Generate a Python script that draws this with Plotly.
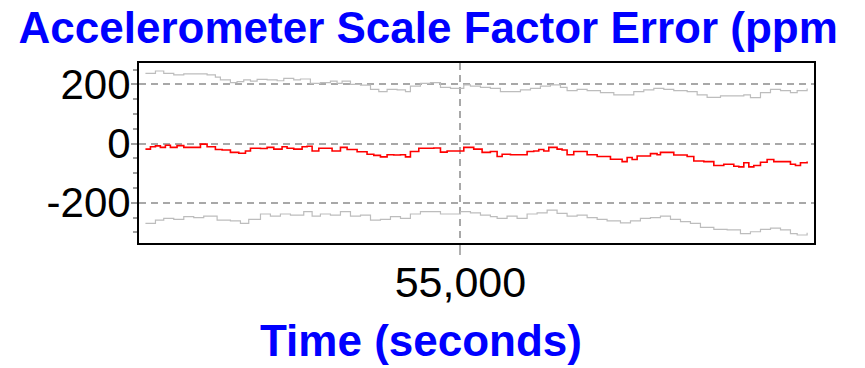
import plotly.graph_objects as go

# ---- data ----
red_t = [50786, 50853, 50920, 50986, 51053, 51120, 51209, 51299, 51432, 51522, 51611, 51722,
         51812, 51923, 52035, 52124, 52191, 52325, 52414, 52503, 52614, 52681, 52770, 52882,
         52949, 53016, 53105, 53216, 53283, 53395, 53484, 53618, 53751, 53841, 53930, 54019,
         54108, 54198, 54265, 54331, 54443, 54554, 54644, 54733, 54822, 54956, 55045,
         55089, 55178, 55290, 55401, 55491, 55558, 55669, 55825, 55892, 55981, 56048, 56115,
         56182, 56293, 56360, 56427, 56516, 56650, 56695, 56829, 57007, 57163, 57230, 57297,
         57364, 57542, 57631, 57676, 57854, 58033, 58122, 58256, 58390, 58523, 58657, 58724,
         58791, 58858, 58925, 59014, 59103, 59192, 59326, 59415, 59482, 59549, 59638]
red_v = [-19, -11, -8, -13, -6, -13, -7, -13, -13, -2, -11, -20, -22, -30, -33, -25, -16, -17,
         -13, -19, -11, -16, -19, -11, -9, -25, -16, -16, -25, -13, -20, -28, -36, -40, -45,
         -38, -39, -38, -45, -27, -16, -16, -15, -29, -25, -25, -13,
         -13, -19, -30, -27, -44, -36, -38, -38, -27, -25, -20, -25, -13, -19, -22, -38, -27,
         -27, -38, -44, -53, -61, -47, -54, -42, -34, -38, -30, -39, -44, -59, -61, -74, -70,
         -77, -79, -65, -79, -74, -63, -54, -61, -61, -70, -74, -65, -61]

upper_t = [50786, 50920, 51031, 51165, 51299, 51477, 51611, 51722, 51789, 51923, 52012, 52101,
           52191, 52280, 52414, 52548, 52637, 52770, 52860, 52993, 53127, 53261, 53350, 53417,
           53529, 53663, 53797, 53908, 54019, 54153, 54265, 54331, 54465, 54599, 54733, 54867,
           54978, 55045,
           55134, 55268, 55401, 55535, 55669, 55803, 55937, 56070, 56204, 56338, 56427, 56561,
           56695, 56873, 57052, 57185, 57319, 57453, 57587, 57721, 57854, 58033, 58167, 58300,
           58479, 58657, 58791, 58880, 59014, 59148, 59282, 59415, 59505, 59638]
upper_v = [237, 245, 237, 232, 235, 235, 232, 224, 215, 206, 209, 215, 211, 217, 215, 212, 220,
           215, 218, 203, 206, 211, 203, 211, 200, 197, 183, 175, 183, 181, 175, 194, 203, 206,
           190, 186, 186, 198,
           194, 190, 186, 175, 175, 181, 186, 194, 198, 190, 179, 183, 179, 172, 164, 164, 175,
           181, 186, 183, 179, 175, 164, 156, 161, 161, 164, 155, 172, 183, 179, 172, 179, 186]

lower_t = [50786, 50920, 51031, 51165, 51299, 51432, 51566, 51745, 51923, 52057, 52168, 52325,
           52458, 52592, 52726, 52904, 53016, 53127, 53261, 53395, 53529, 53663, 53797, 53930,
           54064, 54198, 54331, 54465, 54644, 54733, 54867, 55000,
           55134, 55268, 55401, 55491, 55624, 55758, 55892, 56026, 56160, 56293, 56427, 56561,
           56695, 56829, 56962, 57141, 57275, 57408, 57542, 57676, 57810, 57944, 58077, 58211,
           58390, 58568, 58746, 58880, 59014, 59148, 59282, 59415, 59505, 59638]
lower_v = [-270, -259, -253, -256, -247, -250, -245, -259, -261, -270, -256, -238, -245, -238,
           -242, -230, -245, -238, -242, -230, -245, -242, -259, -256, -247, -253, -238, -230,
           -230, -238, -238, -230,
           -234, -242, -247, -253, -245, -253, -238, -234, -225, -236, -245, -242, -250, -256,
           -261, -268, -261, -253, -250, -245, -256, -264, -270, -283, -290, -292, -304, -298,
           -290, -286, -292, -304, -309, -301]

y_tickvals = [-200, 0, 200]
y_ticktext = ["-200", "0", "200"]
x_tickvals = [55000]
x_ticktext = ["55,000"]

title_text = "Accelerometer Scale Factor Error (ppm"
xtitle_text = "Time (seconds)"

FONT = "Liberation Sans, Arial, sans-serif"
GRID = "#a8a8a8"

fig = go.Figure()
fig.add_trace(go.Scatter(x=upper_t, y=upper_v, mode="lines", line=dict(color="#bdbdbd", width=1.2, shape="hv"),
                         showlegend=False, hoverinfo="skip"))
fig.add_trace(go.Scatter(x=lower_t, y=lower_v, mode="lines", line=dict(color="#bdbdbd", width=1.2, shape="hv"),
                         showlegend=False, hoverinfo="skip"))
fig.add_trace(go.Scatter(x=red_t, y=red_v, mode="lines", line=dict(color="#ff0000", width=1.6, shape="hv"),
                         showlegend=False, hoverinfo="skip"))

fig.update_layout(
    width=865, height=368,
    margin=dict(l=139, r=51, t=63, b=125),
    paper_bgcolor="white", plot_bgcolor="white",
    font=dict(family=FONT, color="black"),
    title=dict(text="<b>" + title_text + "</b>", font=dict(family=FONT, size=44, color="#0000ff"),
               xref="container", x=0.495, xanchor="center",
               yref="container", y=0.925, yanchor="middle"),
    annotations=[dict(text="<b>" + xtitle_text + "</b>", xref="paper", yref="paper",
                      x=0.4185, y=-0.54, xanchor="center", yanchor="middle", showarrow=False,
                      font=dict(family=FONT, size=44, color="#0000ff"))],
)
fig.update_xaxes(
    range=[50700, 59730], tickvals=x_tickvals, ticktext=x_ticktext,
    ticks="outside", ticklen=10, tickcolor="#b0b0b0", tickwidth=2,
    tickfont=dict(family=FONT, size=43, color="black"), ticklabelstandoff=-10,
    showgrid=True, gridcolor=GRID, griddash="7px,5px", gridwidth=1.5,
    showline=True, linecolor="black", linewidth=2, mirror=True, zeroline=False,
)
fig.update_yaxes(
    range=[-336, 272], tickvals=y_tickvals, ticktext=y_ticktext,
    ticks="outside", ticklen=6, tickcolor="#a0a0a0", tickwidth=1.5,
    minor=dict(dtick=50, tick0=0, ticks="outside", ticklen=4, tickcolor="#a0a0a0", showgrid=False),
    tickfont=dict(family=FONT, size=42, color="black"), ticklabelstandoff=-8,
    showgrid=True, gridcolor=GRID, griddash="7px,5px", gridwidth=1.5,
    showline=True, linecolor="black", linewidth=2, mirror=True, zeroline=False,
)

fig.write_html("out.html", config={"displayModeBar": False},
               post_script="document.body.style.margin='0';document.body.style.padding='0';")
